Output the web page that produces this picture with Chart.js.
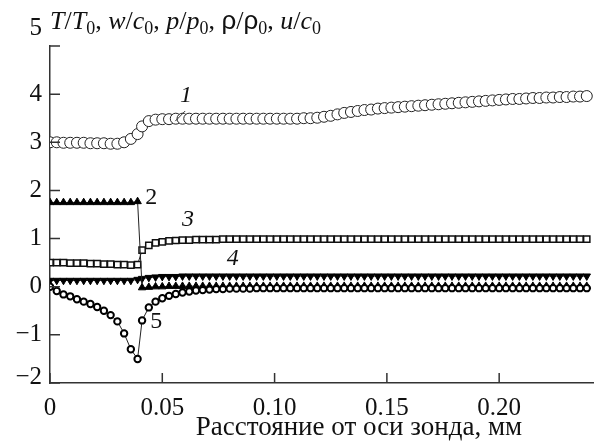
<!DOCTYPE html>
<html><head><meta charset="utf-8">
<script src="https://cdn.jsdelivr.net/npm/chart.js@4.4.0/dist/chart.umd.min.js"></script>
<style>html,body{margin:0;padding:0;background:#fff}#wrap{width:600px;height:444px;position:relative}</style>
</head><body><div id="wrap"><canvas id="c" width="600" height="444"></canvas></div>
<script>
// distance from probe axis, mm
const distance = [
 0.000,0.003,0.006,0.009,0.012,0.015,0.018,0.021,0.024,0.027,0.030,0.033,0.036,0.039,
 0.041,0.044,0.047,0.050,0.053,0.056,0.059,0.062,0.065,0.068,
 0.071,0.074,0.077,0.080,0.083,0.086,0.089,0.092,0.095,0.098,
 0.101,0.104,0.107,0.110,0.113,0.116,0.119,0.122,0.125,0.128,
 0.131,0.134,0.137,0.140,0.143,0.146,0.149,0.152,0.155,0.158,
 0.161,0.164,0.167,0.170,0.173,0.176,0.179,0.182,0.185,0.188,
 0.191,0.194,0.197,0.200,0.203,0.206,0.209,0.212,0.215,0.218,
 0.221,0.224,0.227,0.230,0.233,0.236,0.239];
// 1: T/T0
const temperature = [
 3.00,3.00,2.99,2.99,2.99,2.99,2.98,2.98,2.98,2.97,2.97,3.00,3.07,3.17,
 3.33,3.44,3.47,3.48,3.48,3.49,3.49,3.49,3.49,3.49,
 3.49,3.49,3.49,3.49,3.49,3.49,3.49,3.49,3.49,3.49,
 3.49,3.49,3.49,3.49,3.50,3.50,3.51,3.53,3.55,3.58,
 3.61,3.63,3.65,3.67,3.68,3.70,3.71,3.72,3.73,3.74,
 3.75,3.76,3.77,3.78,3.79,3.80,3.81,3.82,3.83,3.84,
 3.85,3.86,3.87,3.88,3.89,3.90,3.90,3.91,3.92,3.92,
 3.93,3.93,3.94,3.94,3.95,3.95,3.96];
// 2: w/c0
const velocityW = [
 1.75,1.75,1.75,1.75,1.75,1.75,1.75,1.75,1.75,1.75,1.75,1.75,1.75,1.77,
 -0.02,-0.01,0.00,0.00,0.01,0.01,0.01,0.01,0.01,0.01,
 0.01,0.01,0.01,0.01,0.01,0.01,0.01,0.01,0.01,0.01,
 0.01,0.01,0.01,0.01,0.01,0.01,0.01,0.01,0.01,0.01,
 0.01,0.01,0.01,0.01,0.01,0.01,0.01,0.01,0.01,0.01,
 0.01,0.01,0.01,0.01,0.01,0.01,0.01,0.01,0.01,0.01,
 0.01,0.01,0.01,0.01,0.01,0.01,0.01,0.01,0.01,0.01,
 0.01,0.01,0.01,0.01,0.01,0.01,0.01];
// 3: p/p0
const pressure = [
 0.50,0.50,0.50,0.49,0.49,0.49,0.48,0.48,0.47,0.47,0.46,0.46,0.45,0.46,
 0.76,0.86,0.91,0.93,0.95,0.96,0.97,0.97,0.98,0.98,
 0.98,0.98,0.99,0.99,0.99,0.99,0.99,0.99,0.99,0.99,
 0.99,0.99,0.99,0.99,0.99,0.99,0.99,0.99,0.99,0.99,
 0.99,0.99,0.99,0.99,0.99,0.99,0.99,0.99,0.99,0.99,
 0.99,0.99,0.99,0.99,0.99,0.99,0.99,0.99,0.99,0.99,
 0.99,0.99,0.99,0.99,0.99,0.99,0.99,0.99,0.99,0.99,
 0.99,0.99,0.99,0.99,0.99,0.99,0.99];
// 4: rho/rho0
const density = [
 0.13,0.13,0.13,0.13,0.13,0.13,0.13,0.13,0.13,0.13,0.13,0.13,0.13,0.15,
 0.17,0.19,0.20,0.21,0.21,0.21,0.22,0.22,0.22,0.22,
 0.22,0.22,0.22,0.22,0.22,0.22,0.22,0.22,0.22,0.22,
 0.22,0.22,0.22,0.22,0.22,0.22,0.22,0.22,0.22,0.22,
 0.22,0.22,0.22,0.22,0.22,0.22,0.22,0.22,0.22,0.22,
 0.22,0.22,0.22,0.22,0.22,0.22,0.22,0.22,0.22,0.22,
 0.22,0.22,0.22,0.22,0.22,0.22,0.22,0.22,0.22,0.22,
 0.22,0.22,0.22,0.22,0.22,0.22,0.22];
// 5: u/c0
const velocityU = [
 0.00,-0.09,-0.16,-0.20,-0.26,-0.31,-0.36,-0.42,-0.50,-0.59,-0.72,-0.97,-1.30,-1.50,
 -0.70,-0.43,-0.31,-0.24,-0.19,-0.15,-0.12,-0.10,-0.08,-0.07,
 -0.06,-0.05,-0.05,-0.04,-0.04,-0.04,-0.04,-0.03,-0.03,-0.03,
 -0.03,-0.03,-0.03,-0.03,-0.03,-0.03,-0.03,-0.03,-0.03,-0.03,
 -0.03,-0.03,-0.03,-0.03,-0.03,-0.03,-0.03,-0.03,-0.03,-0.03,
 -0.03,-0.03,-0.03,-0.03,-0.03,-0.03,-0.03,-0.03,-0.03,-0.03,
 -0.03,-0.03,-0.03,-0.03,-0.03,-0.03,-0.03,-0.03,-0.03,-0.03,
 -0.03,-0.03,-0.03,-0.03,-0.03,-0.03,-0.03];

const xTicks = [0, 0.05, 0.10, 0.15, 0.20];
const xTickLabels = ['0', '0.05', '0.10', '0.15', '0.20'];
const yTicks = [-2, -1, 0, 1, 2, 3, 4, 5];
const curveLabels = ['1', '2', '3', '4', '5'];
const xTitle = 'Расстояние от оси зонда, мм';

const SERIF = '"Liberation Serif", "Times New Roman", serif';
const toPts = arr => distance.map((d, i) => ({x: d, y: arr[i]}));

function ds(arr, style) {
  return Object.assign({
    data: toPts(arr), borderColor: '#222', borderWidth: 1, tension: 0,
    pointHoverRadius: 0, fill: false
  }, style);
}

const datasets = [
  ds(velocityU, {pointStyle: 'circle', pointRadius: 3.2, pointBackgroundColor: '#fff', pointBorderColor: '#000', pointBorderWidth: 2}),
  ds(velocityW, {pointStyle: 'triangle', pointRadius: 4.3, pointBackgroundColor: '#000', pointBorderColor: '#000', pointBorderWidth: 1}),
  ds(density, {pointStyle: 'triangle', pointRotation: 180, pointRadius: 4.3, pointBackgroundColor: '#000', pointBorderColor: '#000', pointBorderWidth: 1}),
  ds(pressure, {pointStyle: 'rect', pointRadius: 4.4, pointBackgroundColor: '#fff', pointBorderColor: '#111', pointBorderWidth: 1.5}),
  ds(temperature, {pointStyle: 'circle', pointRadius: 5.5, pointBackgroundColor: '#fff', pointBorderColor: '#222', pointBorderWidth: 1})
];

function drawRich(ctx, x, y, segs) {
  let cx = x;
  segs.forEach(s => {
    const size = s.sub ? 18 : 26;
    const fam = s.g ? '"Liberation Sans", "DejaVu Sans", sans-serif' : SERIF;
    ctx.font = (s.i ? 'italic ' : '') + size + 'px ' + fam;
    ctx.fillText(s.t, cx, y + (s.sub ? 5 : 0));
    cx += ctx.measureText(s.t).width;
  });
}

const decor = {
  id: 'decor',
  afterDraw(chart) {
    const {ctx, chartArea: a, scales: {x, y}} = chart;
    ctx.save();
    ctx.strokeStyle = '#333';
    ctx.lineWidth = 1.5;
    ctx.beginPath();
    xTicks.forEach(v => { const px = x.getPixelForValue(v); ctx.moveTo(px, a.bottom); ctx.lineTo(px, a.bottom - 10); });
    yTicks.forEach(v => { const py = y.getPixelForValue(v); ctx.moveTo(a.left, py); ctx.lineTo(a.left + 10, py); });
    ctx.stroke();

    ctx.fillStyle = '#111';
    ctx.textBaseline = 'alphabetic';
    ctx.textAlign = 'left';
    drawRich(ctx, 50, 29, [
      {t: 'T', i: 1}, {t: '/'}, {t: 'T', i: 1}, {t: '0', sub: 1}, {t: ', '},
      {t: 'w', i: 1}, {t: '/'}, {t: 'c', i: 1}, {t: '0', sub: 1}, {t: ', '},
      {t: 'p', i: 1}, {t: '/'}, {t: 'p', i: 1}, {t: '0', sub: 1}, {t: ', '},
      {t: 'ρ', g: 1}, {t: '/'}, {t: 'ρ', g: 1}, {t: '0', sub: 1}, {t: ', '},
      {t: 'u', i: 1}, {t: '/'}, {t: 'c', i: 1}, {t: '0', sub: 1}
    ]);

    ctx.textAlign = 'center';
    ctx.font = '27px ' + SERIF;
    ctx.fillText(xTitle, 359, 435);

    // curve labels
    ctx.textBaseline = 'middle';
    const lab = [
      {t: curveLabels[0], x: 0.0606, y: 3.96, i: 1},
      {t: curveLabels[1], x: 0.0451, y: 1.85, i: 0},
      {t: curveLabels[2], x: 0.0615, y: 1.40, i: 1},
      {t: curveLabels[3], x: 0.0814, y: 0.58, i: 1},
      {t: curveLabels[4], x: 0.0473, y: -0.73, i: 0}
    ];
    lab.forEach(l => {
      ctx.font = (l.i ? 'italic ' : '') + '24px ' + SERIF;
      ctx.fillText(l.t, x.getPixelForValue(l.x), y.getPixelForValue(l.y));
    });
    ctx.lineWidth = 1;
    ctx.beginPath();
    ctx.moveTo(x.getPixelForValue(0.0558), y.getPixelForValue(3.44));
    ctx.lineTo(x.getPixelForValue(0.0602), y.getPixelForValue(3.65));
    ctx.stroke();
    ctx.restore();
  }
};

new Chart(document.getElementById('c'), {
  type: 'line',
  data: {datasets},
  options: {
    responsive: false, animation: false, devicePixelRatio: 1,
    layout: {padding: {top: 46, right: 3, left: 0, bottom: 0}},
    plugins: {legend: {display: false}, tooltip: {enabled: false}},
    elements: {line: {borderJoinStyle: 'miter'}},
    scales: {
      x: {
        type: 'linear', min: 0, max: 0.242,
        afterBuildTicks: s => { s.ticks = xTicks.map(v => ({value: v})); },
        afterFit: s => { s.height = 61; },
        grid: {display: false, drawTicks: false},
        border: {display: true, color: '#333', width: 1.5},
        ticks: {
          color: '#111', padding: 10, maxRotation: 0, autoSkip: false,
          font: {family: SERIF, size: 25},
          callback: v => { const k = xTicks.indexOf(v); return k >= 0 ? xTickLabels[k] : ''; }
        }
      },
      y: {
        type: 'linear', min: -2, max: 5,
        afterBuildTicks: s => { s.ticks = yTicks.map(v => ({value: v})); },
        afterFit: s => { s.width = 50; },
        grid: {display: false, drawTicks: false},
        border: {display: true, color: '#333', width: 1.5},
        ticks: {
          color: '#111', padding: 8, autoSkip: false,
          font: c => ({family: SERIF, size: 25, lineHeight: (c.tick && c.tick.value === -2) ? 0.45 : 1.4}),
          callback: v => {
            const s = v < 0 ? '\u2212' + Math.abs(v) : String(v);
            return (v === 5 || v === -2) ? [s, ''] : s;
          }
        }
      }
    }
  },
  plugins: [decor]
});
</script>
</body></html>
